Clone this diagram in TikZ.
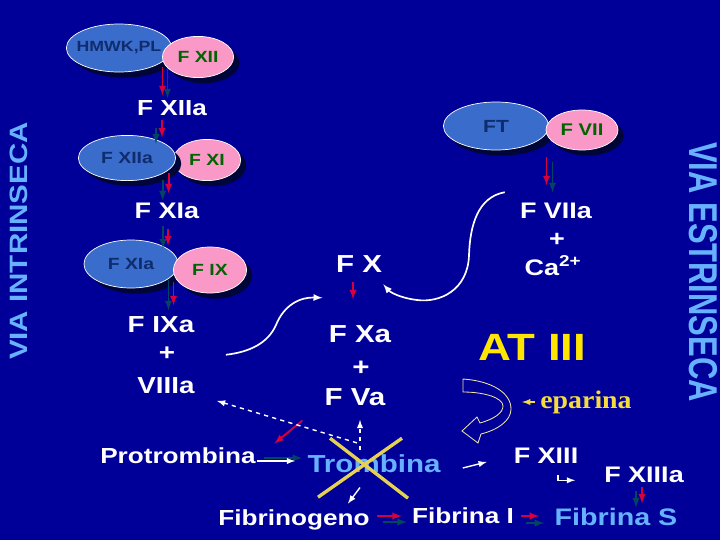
\documentclass[tikz,border=0pt]{standalone}
\usepackage{fontspec}
\setmainfont{Liberation Sans}
\newfontfamily\widesans{Liberation Sans}[FakeStretch=1.2]
\newfontfamily\wideserif{Liberation Serif}[FakeStretch=1.1]
\usetikzlibrary{shapes.geometric,shadows}

\definecolor{bgblue}{RGB}{0,0,153}
\definecolor{ellblue}{RGB}{58,108,204}
\definecolor{elltext}{RGB}{15,45,110}
\definecolor{ellpink}{RGB}{250,152,200}
\definecolor{pinktext}{RGB}{0,100,0}
\definecolor{skyblue}{RGB}{102,178,255}
\definecolor{arrred}{RGB}{215,0,60}
\definecolor{arrdark}{RGB}{0,70,95}
\definecolor{atyellow}{RGB}{255,230,0}
\definecolor{epyellow}{RGB}{245,220,60}
\definecolor{crossyellow}{RGB}{230,210,80}
\definecolor{hollowline}{RGB}{240,230,160}
\definecolor{shade}{RGB}{0,5,55}

\tikzset{
  lbl/.style={text=white, inner sep=0pt, anchor=base, font=\widesans\bfseries\fontsize{#1}{#1}\selectfont},
  ell/.style 2 args={ellipse, draw=white, line width=0.5pt, inner sep=0pt,
    minimum width=#1, minimum height=#2,
    font=\widesans\bfseries\fontsize{11.5}{11.5}\selectfont,
    drop shadow={shadow xshift=4pt, shadow yshift=-4pt, fill=shade, opacity=1}},
  blueell/.style 2 args={ell={#1}{#2}, fill=ellblue, text=elltext},
  pinkell/.style 2 args={ell={#1}{#2}, fill=ellpink, text=pinktext},
  redarr/.style={->, arrred, line width=1.3pt},
  darkarr/.style={->, arrdark, line width=1.3pt},
  whitearr/.style={->, white, line width=1pt},
  dasharr/.style={->, white, line width=1pt, dashed},
  swoop/.style={->, white, line width=1.2pt},
}

\begin{document}
\begin{tikzpicture}[x=0.025cm, y=-0.025cm, >=latex]
  \useasboundingbox (0,0) rectangle (720,540);
  \fill[bgblue] (0,0) rectangle (720,540);
  % Side titles
  \node[rotate=90, yscale=0.85, text=skyblue, font=\bfseries\fontsize{21}{21}\selectfont] (intr) at (19,241) {VIA INTRINSECA};
  \node[rotate=-90, yscale=1.3, text=skyblue, font=\bfseries\fontsize{22}{22}\selectfont] (estr) at (703,272) {VIA ESTRINSECA};

  % Intrinsic pathway
  \node[blueell={2.63cm}{1.2cm}, inner xsep=-5pt, font=\widesans\bfseries\fontsize{10.5}{10.5}\selectfont] (hmwk) at (119,48) {HMWK,PL};
  \node[pinkell={1.78cm}{1.03cm}] (fxii) at (198,57) {F XII};
  \node[lbl=15.5] (fxiiaL) at (172,115) {F XIIa};
  \node[pinkell={1.68cm}{1.03cm}] (fxi) at (207,160) {F XI};
  \node[blueell={2.43cm}{1.13cm}] (fxiiab) at (127,158) {F XIIa};
  \node[lbl=16] (fxiaL) at (167,218) {F XIa};
  \node[blueell={2.35cm}{1.2cm}] (fxiab) at (131,264) {F XIa};
  \node[pinkell={1.83cm}{1.15cm}] (fix) at (210,270) {F IX};
  \node[lbl=16.5] (fixa) at (161,332) {F IXa};
  \node[lbl=16.5] (plusa) at (167,360) {+};
  \node[lbl=16.5] (viiia) at (166,393) {VIIIa};

  % Extrinsic pathway
  \node[blueell={2.63cm}{1.2cm}, font=\widesans\bfseries\fontsize{12.5}{12.5}\selectfont] (ft) at (496,126) {FT};
  \node[pinkell={1.8cm}{1.0cm}, font=\widesans\bfseries\fontsize{12}{12}\selectfont] (fvii) at (582,130) {F VII};
  \node[lbl=16] (fviia) at (556,218) {F VIIa};
  \node[lbl=16] (plusc) at (557,246) {+};
  \node[lbl=16] (ca) at (553,275) {Ca\textsuperscript{2+}};

  % Common pathway
  \node[lbl=17.5] (fx) at (359,272) {F X};
  \node[lbl=17.5] (fxa) at (360,342) {F Xa};
  \node[lbl=17.5] (plusb) at (361,375) {+};
  \node[lbl=17.5] (fva) at (355,405) {F Va};
  \node[lbl=27, text=atyellow] (atiii) at (532,360) {AT III};
  \node[lbl=18, text=epyellow, font=\wideserif\bfseries\fontsize{18}{18}\selectfont] (eparina) at (586,408) {eparina};
  \node[lbl=15.5] (protrombina) at (178,463) {Protrombina};
  \node[lbl=17.5, text=skyblue] (trombina) at (374,472) {Trombina};
  \node[lbl=15.5] (fibrinogeno) at (294,525) {Fibrinogeno};
  \node[lbl=15.5] (fibrinaI) at (463,523) {Fibrina I};
  \node[lbl=17, text=skyblue] (fibrinaS) at (616,525) {Fibrina S};
  \node[lbl=16] (fxiii) at (546,463) {F XIII};
  \node[lbl=16] (fxiiia) at (644,482) {F XIIIa};

  % Activation arrows
  \draw[darkarr] ([shift={(11,4)}]hmwk.south east) -- ++(0,29);
  \draw[redarr] ([shift={(6,2)}]hmwk.south east) -- ++(0,28);
  \draw[darkarr] ([shift={(-16,13)}]fxiiaL.south) -- ++(0,15);
  \draw[redarr] ([shift={(-10,5)}]fxiiaL.south) -- ++(0,17);
  \draw[darkarr] ([shift={(1,6)}]fxiiab.south east) -- ++(0,20);
  \draw[redarr] ([shift={(7,-1)}]fxiiab.south east) -- ++(0,20);
  \draw[darkarr] ([shift={(-4,7)}]fxiaL.south) -- ++(0,23);
  \draw[redarr] ([shift={(1,10)}]fxiaL.south) -- ++(0,17);
  \draw[darkarr] ([shift={(4,-1)}]fxiab.south east) -- ++(0,30);
  \draw[redarr] ([shift={(9,1)}]fxiab.south east) -- ++(0,23);
  \draw[darkarr] ([shift={(19,19)}]ft.south east) -- ++(0,30);
  \draw[redarr] ([shift={(13,14)}]ft.south east) -- ++(0,28);
  \draw[redarr] ([shift={(-6,10)}]fx.south) -- ++(0,17);
  \draw[darkarr] ([shift={(-8,8)}]fxiiia.south) -- ++(0,17);
  \draw[redarr] ([shift={(-2,4)}]fxiiia.south) -- ++(0,17);
  \draw[darkarr] ([shift={(13,-3)}]fibrinogeno.base east) -- ++(24,0);
  \draw[redarr] ([shift={(7,-9)}]fibrinogeno.base east) -- ++(25,0);
  \draw[darkarr] ([shift={(12,0)}]fibrinaI.base east) -- ++(18,0);
  \draw[redarr] ([shift={(7,-7)}]fibrinaI.base east) -- ++(18,0);
  \draw[darkarr] ([shift={(8,-5)}]protrombina.base east) -- ++(38,0);
  \draw[whitearr] ([shift={(1,-2)}]protrombina.base east) -- ++(38,0);
  \draw[redarr] ([shift={(-22,15)}]fva.south west) -- ++(-28,23);

  % Thrombin feedback and products
  \draw[dasharr] ([shift={(-14,-4)}]trombina.north) -- ++(0,-30);
  \draw[dasharr] ([shift={(-17,-11)}]trombina.north) -- ++(-140,-42);
  \draw[whitearr] ([shift={(-14,15)}]trombina.south) -- ++(-12,16);
  \draw[whitearr] ([shift={(22,-4)}]trombina.base east) -- ++(24,-6);
  \draw[whitearr] ([shift={(12,12)}]fxiii.south) -- ++(0,5) -- ++(17,0);
  \draw[->, epyellow, line width=1pt] ([shift={(-5,-6)}]eparina.base west) -- ++(-13,0);

  % Curved links to F X
  \draw[swoop] ([shift={(-15,-10)}]fviia.north west) .. controls (478,197) and (470,225) .. (469,255)
    .. controls (468,290) and (440,303) .. (417,300) .. controls (400,298) and (390,292) .. ([shift={(1,12)}]fx.south east);
  \draw[swoop] ([shift={(31,-22)}]viiia.north east) .. controls (250,352) and (268,343) .. (276,325)
    .. controls (284,305) and (300,297) .. ([shift={(-6,-27)}]fxa.north west);

  % Hollow arrow of AT III
  \draw[hollowline, line width=0.6pt] (463,379) .. controls (492,381) and (511,393) .. (511,409)
    .. controls (511,421) and (497,430) .. (481,434) -- (478,443) -- (462,431) -- (477,417) -- (480,423)
    .. controls (494,419) and (503,413) .. (503,406) .. controls (503,398) and (485,392) .. (463,392) -- cycle;

  % Cross over thrombin
  \draw[crossyellow, line width=2.4pt] ([shift={(-44,-25)}]trombina.center) -- ([shift={(34,35)}]trombina.center);
  \draw[crossyellow, line width=2.4pt] ([shift={(28,-25)}]trombina.center) -- ([shift={(-56,34)}]trombina.center);
\end{tikzpicture}
\end{document}
